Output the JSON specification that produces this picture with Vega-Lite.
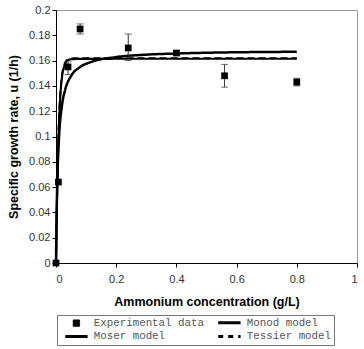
{
  "$schema": "https://vega.github.io/schema/vega-lite/v6.json",
  "width": 301,
  "height": 253,
  "autosize": {"type": "none"},
  "padding": {"left": 56, "top": 10, "right": 7, "bottom": 86},
  "background": "white",
  "config": {
    "font": "Liberation Sans",
    "view": {"stroke": "#9a9a9a", "strokeWidth": 1},
    "axis": {"grid": false, "domainColor": "black", "tickColor": "black", "labelColor": "#333", "labelFontSize": 11, "titleFontSize": 12.5, "titleFontWeight": "bold", "titleColor": "black", "tickSize": 4, "labelOverlap": false}
  },
  "data": {
    "values": [
      {"series": "Experimental data", "x": 0, "y": 0},
      {"series": "Experimental data", "x": 0.008, "y": 0.064},
      {"series": "Experimental data", "x": 0.04, "y": 0.155, "lo": 0.149, "hi": 0.159},
      {"series": "Experimental data", "x": 0.08, "y": 0.185, "lo": 0.181, "hi": 0.189},
      {"series": "Experimental data", "x": 0.24, "y": 0.170, "lo": 0.160, "hi": 0.181},
      {"series": "Experimental data", "x": 0.4, "y": 0.166, "lo": 0.164, "hi": 0.168},
      {"series": "Experimental data", "x": 0.56, "y": 0.148, "lo": 0.139, "hi": 0.157},
      {"series": "Experimental data", "x": 0.8, "y": 0.143, "lo": 0.140, "hi": 0.146},
      {"series": "Monod model", "x": 0, "y": 0},
      {"series": "Monod model", "x": 0.002, "y": 0.0374},
      {"series": "Monod model", "x": 0.005, "y": 0.0702},
      {"series": "Monod model", "x": 0.01, "y": 0.0991},
      {"series": "Monod model", "x": 0.02, "y": 0.1248},
      {"series": "Monod model", "x": 0.03, "y": 0.1366},
      {"series": "Monod model", "x": 0.05, "y": 0.1478},
      {"series": "Monod model", "x": 0.08, "y": 0.1549},
      {"series": "Monod model", "x": 0.12, "y": 0.1592},
      {"series": "Monod model", "x": 0.2, "y": 0.1628},
      {"series": "Monod model", "x": 0.3, "y": 0.1647},
      {"series": "Monod model", "x": 0.4, "y": 0.1656},
      {"series": "Monod model", "x": 0.5, "y": 0.1662},
      {"series": "Monod model", "x": 0.6, "y": 0.1666},
      {"series": "Monod model", "x": 0.7, "y": 0.1668},
      {"series": "Monod model", "x": 0.8, "y": 0.167},
      {"series": "Moser model", "x": 0, "y": 0},
      {"series": "Moser model", "x": 0.005, "y": 0.07},
      {"series": "Moser model", "x": 0.01, "y": 0.11},
      {"series": "Moser model", "x": 0.015, "y": 0.134},
      {"series": "Moser model", "x": 0.02, "y": 0.147},
      {"series": "Moser model", "x": 0.03, "y": 0.157},
      {"series": "Moser model", "x": 0.04, "y": 0.1605},
      {"series": "Moser model", "x": 0.06, "y": 0.1612},
      {"series": "Moser model", "x": 0.1, "y": 0.1614},
      {"series": "Moser model", "x": 0.8, "y": 0.1615},
      {"series": "Tessier model", "x": 0, "y": 0},
      {"series": "Tessier model", "x": 0.005, "y": 0.071},
      {"series": "Tessier model", "x": 0.01, "y": 0.1156},
      {"series": "Tessier model", "x": 0.015, "y": 0.137},
      {"series": "Tessier model", "x": 0.02, "y": 0.1487},
      {"series": "Tessier model", "x": 0.03, "y": 0.1583},
      {"series": "Tessier model", "x": 0.04, "y": 0.1609},
      {"series": "Tessier model", "x": 0.06, "y": 0.1619},
      {"series": "Tessier model", "x": 0.1, "y": 0.162},
      {"series": "Tessier model", "x": 0.8, "y": 0.162}
    ]
  },
  "encoding": {
    "x": {"field": "x", "type": "quantitative", "scale": {"domain": [0, 1]}, "axis": {"tickCount": 5, "format": "~g", "title": "Ammonium concentration (g/L)", "labelPadding": 6, "titlePadding": 11, "labelOverlap": false}},
    "y": {"field": "y", "type": "quantitative", "scale": {"domain": [0, 0.2]}, "axis": {"tickCount": 10, "format": "~g", "title": "Specific growth rate, u (1/h)", "titlePadding": 8, "labelOverlap": false}}
  },
  "layer": [
    {
      "transform": [{"filter": "datum.series != 'Experimental data'"}],
      "mark": {"type": "line", "interpolate": "monotone"},
      "encoding": {
        "color": {"field": "series", "type": "nominal", "scale": {"domain": ["Experimental data", "Monod model", "Moser model", "Tessier model"], "range": ["black", "black", "black", "black"]},
          "legend": {
            "title": null, "orient": "none", "legendX": 1, "legendY": 305, "columns": 2, "direction": "horizontal",
            "strokeColor": "#777", "padding": 2, "columnPadding": 8, "rowPadding": 1,
            "labelFont": "Liberation Mono", "labelFontSize": 10.8, "labelColor": "#555", "labelLimit": 200, "labelOffset": 12,
            "symbolType": "stroke", "symbolSize": 500, "symbolStrokeWidth": 3, "symbolOffset": 12,
            "encode": {
              "symbols": {"update": {
                "shape": {"signal": "datum.value == 'Experimental data' ? 'square' : 'stroke'"},
                "size": {"signal": "datum.value == 'Experimental data' ? 40 : 500"},
                "fill": {"signal": "datum.value == 'Experimental data' ? 'black' : 'transparent'"},
                "stroke": {"value": "black"},
                "strokeWidth": {"signal": "datum.value == 'Experimental data' ? 1 : 3"},
                "strokeDash": {"signal": "datum.value == 'Tessier model' ? [5, 5] : [1, 0]"}
              }}
            }
          }
        },
        "strokeDash": {"field": "series", "type": "nominal", "scale": {"domain": ["Monod model", "Moser model", "Tessier model"], "range": [[1, 0], [1, 0], [7, 4]]}, "legend": null},
        "strokeWidth": {"field": "series", "type": "nominal", "scale": {"domain": ["Monod model", "Moser model", "Tessier model"], "range": [2.5, 1.8, 3]}, "legend": null}
      }
    },
    {
      "transform": [{"filter": "datum.series == 'Experimental data' && isValid(datum.lo)"}],
      "mark": {"type": "errorbar", "ticks": {"size": 7, "color": "#333"}, "rule": {"color": "#333"}},
      "encoding": {
        "y": {"field": "lo", "type": "quantitative", "title": "Specific growth rate, u (1/h)"},
        "y2": {"field": "hi"}
      }
    },
    {
      "transform": [{"filter": "datum.series == 'Experimental data'"}],
      "mark": {"type": "point", "shape": "square", "filled": true, "size": 45, "opacity": 1},
      "encoding": {
        "color": {"field": "series", "type": "nominal"}
      }
    }
  ]
}
